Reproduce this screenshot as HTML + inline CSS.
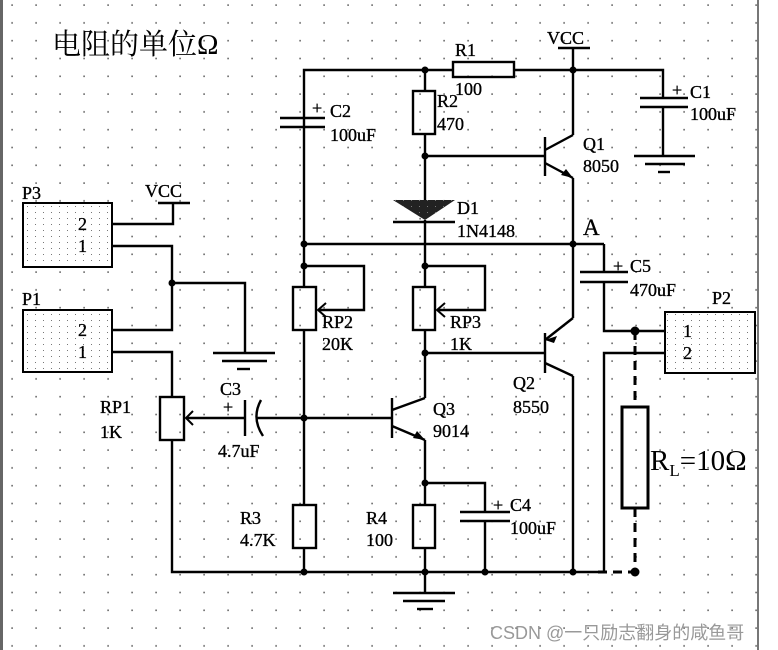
<!DOCTYPE html>
<html><head><meta charset="utf-8"><style>
html,body{margin:0;padding:0;background:#fff;}
body{width:778px;height:650px;overflow:hidden;position:relative;}
svg{position:absolute;left:0;top:0;}
text{font-family:"Liberation Serif","Noto Serif CJK SC",serif;fill:#000;}
.lb text{stroke:#000;stroke-width:0.35;}
</style></head><body>
<svg width="778" height="650" viewBox="0 0 778 650" xmlns="http://www.w3.org/2000/svg">
<defs>
<pattern id="dots" x="0" y="0" width="24" height="17.8" patternUnits="userSpaceOnUse">
<rect x="11.3" y="4.3" width="1.6" height="1.6" fill="#666"/>
</pattern>
<pattern id="fine" x="0" y="0" width="8" height="6" patternUnits="userSpaceOnUse">
<rect x="3" y="2" width="1" height="1" fill="#777"/>
</pattern>
</defs>
<rect width="778" height="650" fill="#fff"/>
<rect width="758" height="650" fill="url(#dots)"/>
<rect x="0" y="0" width="3" height="650" fill="#666"/>
<rect x="757" y="0" width="2" height="650" fill="#777"/>

<text x="52" y="54" font-size="29" font-family="Noto Serif CJK SC,serif">电阻的单位Ω</text>

<g stroke="#000" stroke-width="2.4" fill="none">
<polyline points="304,244 304,70 453,70"/>
<polyline points="514,70 663,70 663,98"/>
<rect x="453" y="62" width="61" height="15"/>
<line x1="573" y1="48" x2="573" y2="135"/>
<line x1="558" y1="48" x2="590" y2="48"/>
<line x1="640" y1="98" x2="688" y2="98"/>
<line x1="640" y1="107" x2="688" y2="107"/>
<line x1="663" y1="107" x2="663" y2="156"/>
<line x1="634" y1="156" x2="695" y2="156"/>
<line x1="645" y1="164" x2="685" y2="164"/>
<line x1="658" y1="172" x2="670" y2="172"/>
<line x1="280" y1="118" x2="325" y2="118"/>
<line x1="280" y1="127" x2="325" y2="127"/>
<line x1="425" y1="70" x2="425" y2="91"/>
<rect x="413" y="91" width="22" height="43"/>
<line x1="425" y1="134" x2="425" y2="200"/>
<line x1="425" y1="156" x2="545" y2="156"/>
<line x1="545" y1="137" x2="545" y2="176"/>
<line x1="545" y1="150" x2="573" y2="135"/>
<line x1="545" y1="163" x2="573" y2="178"/>
<line x1="573" y1="178" x2="573" y2="318"/>
<line x1="393" y1="222" x2="455" y2="222"/>
<line x1="425" y1="220" x2="425" y2="287"/>
<line x1="304" y1="244" x2="604" y2="244"/>
<line x1="604" y1="244" x2="604" y2="272"/>
<line x1="580" y1="272" x2="628" y2="272"/>
<line x1="580" y1="282" x2="628" y2="282"/>
<polyline points="604,282 604,331 665,331"/>
<polyline points="665,353 604,353 604,572"/>
<line x1="304" y1="244" x2="304" y2="287"/>
<polyline points="304,266 364,266 364,310 318,310"/>
<rect x="293" y="287" width="23" height="43"/>
<line x1="304" y1="330" x2="304" y2="505"/>
<polyline points="425,266 485,266 485,310 437,310"/>
<rect x="413" y="287" width="22" height="43"/>
<line x1="425" y1="330" x2="425" y2="398"/>
<line x1="425" y1="353" x2="545" y2="353"/>
<line x1="545" y1="333" x2="545" y2="373"/>
<line x1="545" y1="340" x2="573" y2="318"/>
<line x1="545" y1="363" x2="573" y2="376"/>
<line x1="573" y1="376" x2="573" y2="572"/>
<line x1="304" y1="418" x2="392" y2="418"/>
<line x1="392" y1="398" x2="392" y2="438"/>
<line x1="392" y1="410" x2="425" y2="398"/>
<line x1="392" y1="426" x2="425" y2="440"/>
<line x1="425" y1="440" x2="425" y2="505"/>
<polyline points="425,483 485,483 485,512"/>
<line x1="460" y1="512" x2="510" y2="512"/>
<line x1="460" y1="521" x2="510" y2="521"/>
<line x1="485" y1="521" x2="485" y2="572"/>
<rect x="413" y="505" width="22" height="43"/>
<line x1="425" y1="548" x2="425" y2="593"/>
<line x1="393" y1="593" x2="455" y2="593"/>
<line x1="403" y1="601" x2="445" y2="601"/>
<line x1="417" y1="609" x2="433" y2="609"/>
<rect x="293" y="505" width="23" height="43"/>
<line x1="304" y1="548" x2="304" y2="572"/>
<polyline points="172,440 172,572 598,572"/>
<rect x="160" y="397" width="24" height="43"/>
<line x1="186" y1="418" x2="245" y2="418"/>
<line x1="245" y1="400" x2="245" y2="436"/>
<path d="M261,400 Q251,418 263,436"/>
<line x1="257" y1="418" x2="304" y2="418"/>
<polyline points="112,224 173,224 173,203"/>
<line x1="158" y1="203" x2="190" y2="203"/>
<polyline points="112,246 172,246 172,330 112,330"/>
<polyline points="172,283 245,283 245,353"/>
<line x1="213" y1="353" x2="275" y2="353"/>
<line x1="222" y1="361" x2="267" y2="361"/>
<line x1="237" y1="369" x2="250" y2="369"/>
<polyline points="112,352 172,352 172,397"/>
</g>
<g stroke="#000" stroke-width="2" fill="none">
<polyline points="326,303 318,310 326,317"/>
<polyline points="445,303 437,310 445,317"/>
<polyline points="193,411 186,418 193,425"/>
</g>
<polygon points="573,178 561,175 566,169" fill="#000"/>
<polygon points="545,340 557,336 554,343" fill="#000"/>
<polygon points="425,440 413,438 417,431" fill="#000"/>
<polygon points="393,200 455,200 425,220" fill="#222"/>
<polygon points="393,200 455,200 425,220" fill="url(#fine)"/>
<g stroke="#000" stroke-width="2" fill="#fff">
<rect x="23" y="203" width="89" height="64"/>
<rect x="23" y="310" width="89" height="62"/>
<rect x="665" y="312" width="90" height="61"/>
</g>
<rect x="24" y="204" width="87" height="62" fill="url(#fine)"/>
<rect x="24" y="311" width="87" height="60" fill="url(#fine)"/>
<rect x="666" y="313" width="88" height="59" fill="url(#fine)"/>
<g stroke="#000" stroke-width="3" fill="none">
<line x1="635" y1="331" x2="635" y2="407" stroke-dasharray="9,6"/>
<rect x="622" y="407" width="26" height="101"/>
<line x1="635" y1="508" x2="635" y2="572" stroke-dasharray="9,6"/>
<line x1="598" y1="572" x2="635" y2="572" stroke-dasharray="9,6"/>
</g>
<g fill="#000">
<circle cx="425" cy="70" r="3.5"/><circle cx="573" cy="70" r="3.5"/>
<circle cx="425" cy="156" r="3.5"/><circle cx="573" cy="244" r="3.5"/>
<circle cx="304" cy="244" r="3.5"/><circle cx="304" cy="266" r="3.5"/>
<circle cx="425" cy="266" r="3.5"/><circle cx="425" cy="353" r="3.5"/>
<circle cx="304" cy="418" r="3.5"/><circle cx="425" cy="483" r="3.5"/>
<circle cx="172" cy="283" r="3.5"/>
<circle cx="304" cy="572" r="3.5"/><circle cx="425" cy="572" r="3.5"/>
<circle cx="485" cy="572" r="3.5"/><circle cx="573" cy="572" r="3.5"/>
<circle cx="635" cy="331" r="4.5"/><circle cx="635" cy="572" r="4.5"/>
</g>
<g font-size="18" class="lb">
<text x="455" y="56">R1</text><text x="455" y="95">100</text>
<text x="547" y="44">VCC</text>
<text x="672" y="96">+</text><text x="690" y="98">C1</text><text x="690" y="120">100uF</text>
<text x="312" y="114">+</text><text x="330" y="117">C2</text><text x="330" y="141">100uF</text>
<text x="437" y="107">R2</text><text x="437" y="130">470</text>
<text x="583" y="150">Q1</text><text x="583" y="172">8050</text>
<text x="457" y="214">D1</text><text x="457" y="237">1N4148</text>
<text x="583" y="235" font-size="23" stroke-width="0">A</text>
<text x="613" y="272">+</text><text x="630" y="272">C5</text><text x="630" y="296">470uF</text>
<text x="712" y="304">P2</text><text x="683" y="337">1</text><text x="683" y="359">2</text>
<text x="322" y="328">RP2</text><text x="322" y="350">20K</text>
<text x="450" y="328">RP3</text><text x="450" y="350">1K</text>
<text x="513" y="389">Q2</text><text x="513" y="413">8550</text>
<text x="433" y="415">Q3</text><text x="433" y="437">9014</text>
<text x="493" y="511">+</text><text x="510" y="511">C4</text><text x="510" y="534">100uF</text>
<text x="366" y="524">R4</text><text x="366" y="546">100</text>
<text x="240" y="524">R3</text><text x="240" y="546">4.7K</text>
<text x="220" y="395">C3</text><text x="223" y="413">+</text><text x="218" y="457">4.7uF</text>
<text x="100" y="413">RP1</text><text x="100" y="438">1K</text>
<text x="145" y="197">VCC</text>
<text x="22" y="199">P3</text><text x="78" y="230">2</text><text x="78" y="252">1</text>
<text x="22" y="305">P1</text><text x="78" y="336">2</text><text x="78" y="358">1</text>
</g>
<text x="650" y="470" font-size="29">R<tspan font-size="17" dy="6">L</tspan><tspan dy="-6">=10Ω</tspan></text>
<text x="490" y="639" font-size="18" fill="#999" style="fill:#999;font-family:'Liberation Sans','Noto Sans CJK SC',sans-serif">CSDN @一只励志翻身的咸鱼哥</text>
</svg>
</body></html>
